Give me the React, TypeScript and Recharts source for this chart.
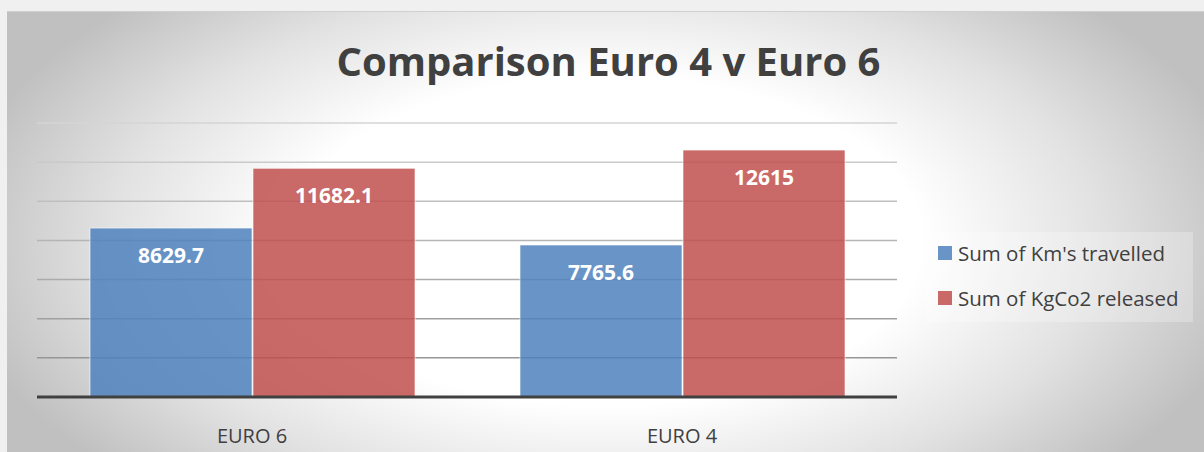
import React from "react";
import { BarChart, Bar, XAxis, YAxis, CartesianGrid, LabelList } from "recharts";

const categories = ["EURO 6", "EURO 4"];
const kmTravelled = [8629.7, 7765.6];
const kgCo2Released = [11682.1, 12615];
const yTicks = [0, 2000, 4000, 6000, 8000, 10000, 12000, 14000];
const seriesNames = ["Sum of Km's travelled", "Sum of KgCo2 released"];
const seriesColors = ["#4F81BD", "#C0504D"];
const title = "Comparison Euro 4 v Euro 6";

const data = categories.map((c, i) => ({ name: c, km: kmTravelled[i], co2: kgCo2Released[i] }));

const FONT = "'Open Sans', sans-serif";

const ValueLabel = (props: any) => {
  const { x, y, width, value } = props;
  return (
    <text x={x + width / 2} y={y + 35} textAnchor="middle" fill="#ffffff" fontFamily={FONT} fontWeight={700} fontSize={21}>
      {value}
    </text>
  );
};

const XTick = (props: any) => {
  const { x, y, payload } = props;
  return (
    <text x={x} y={y + 38} textAnchor="middle" fill="#404040" fontFamily={FONT} fontSize={20}>
      {payload.value}
    </text>
  );
};

const GridLine = (props: any) => {
  const { x1, x2, y1, y2 } = props;
  const t = Math.max(0, Math.min(1, (y1 - 123) / (358 - 123)));
  const g = Math.round(212 - t * 62);
  const c = `rgb(${g},${g},${g})`;
  return <line x1={x1} x2={x2} y1={y1} y2={y2} stroke={c} strokeWidth={1.5} />;
};

export default function App() {
  return (
    <div style={{ position: "absolute", left: 0, top: 0, width: 1204, height: 452, background: "#f0f0f0", overflow: "hidden" }}>
      <div
        style={{
          position: "absolute",
          left: 7,
          top: 11,
          width: 1197,
          height: 441,
          borderTop: "1px solid #d0d0d0",
          background: "radial-gradient(ellipse 55% 78% at 50% 52%, #ffffff 0%, #ffffff 48%, #e2e2e2 75%, #c0c0c0 100%)",
        }}
      />
      <div
        style={{
          position: "absolute",
          left: 0,
          width: 1217,
          top: 33,
          textAlign: "center",
          fontFamily: FONT,
          fontWeight: 700,
          fontSize: 40,
          lineHeight: "normal",
          color: "#404040",
          whiteSpace: "nowrap",
        }}
      >
        {title}
      </div>
      <div style={{ position: "absolute", left: 0, top: 0 }}>
        <BarChart width={1204} height={452} data={data} margin={{ top: 123, right: 307, bottom: 25, left: 37 }} barCategoryGap={53} barGap={1}>
          <CartesianGrid horizontal={(p: any) => <GridLine key={p.key ?? p.y1} {...p} />} vertical={false} />
          <YAxis hide domain={[0, 14000]} ticks={yTicks} />
          <XAxis dataKey="name" height={30} axisLine={{ stroke: "#404040", strokeWidth: 3 }} tickLine={false} tick={<XTick />} interval={0} />
          <Bar dataKey="km" name={seriesNames[0]} fill={seriesColors[0]} fillOpacity={0.85} stroke="#ffffff" strokeOpacity={0.6} strokeWidth={1} isAnimationActive={false}>
            <LabelList dataKey="km" content={<ValueLabel />} />
          </Bar>
          <Bar dataKey="co2" name={seriesNames[1]} fill={seriesColors[1]} fillOpacity={0.85} stroke="#ffffff" strokeOpacity={0.6} strokeWidth={1} isAnimationActive={false}>
            <LabelList dataKey="co2" content={<ValueLabel />} />
          </Bar>
        </BarChart>
      </div>
      <div style={{ position: "absolute", left: 925, top: 232, width: 268, height: 90, background: "rgba(255,255,255,0.25)", fontFamily: FONT }}>
        {seriesNames.map((n, i) => (
          <div key={n} style={{ position: "absolute", left: 13, top: 8 + i * 45, display: "flex", alignItems: "center", height: 26 }}>
            <span style={{ display: "inline-block", width: 14, height: 14, background: seriesColors[i], opacity: 0.85, marginRight: 6 }} />
            <span style={{ fontSize: 20.5, color: "#404040", whiteSpace: "nowrap" }}>{n}</span>
          </div>
        ))}
      </div>
    </div>
  );
}
